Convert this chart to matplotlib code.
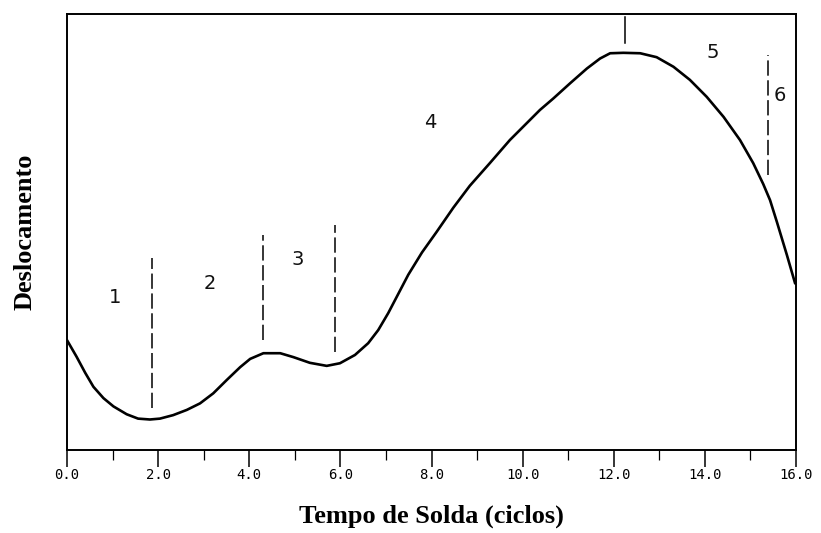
import matplotlib.pyplot as plt
import numpy as np

# curve (time in cycles, displacement in arbitrary units)
tempo = [0.00, 0.21, 0.40, 0.58, 0.80, 1.02, 1.31, 1.56, 1.82, 2.04, 2.33, 2.63,
         2.92, 3.21, 3.51, 3.80, 4.02, 4.31, 4.68, 4.97, 5.33, 5.70, 5.99, 6.32,
         6.61, 6.83, 7.05, 7.27, 7.49, 7.79, 8.11, 8.48, 8.84, 9.28, 9.72, 10.38,
         10.67, 11.04, 11.41, 11.70, 11.92, 12.21, 12.58, 12.94, 13.31, 13.67,
         14.04, 14.41, 14.77, 15.06, 15.28, 15.43, 15.58, 15.80, 15.98]
deslocamento = [25.2, 21.4, 17.7, 14.5, 11.9, 10.0, 8.2, 7.2, 7.0, 7.2, 8.0, 9.2,
                10.7, 13.0, 16.1, 19.0, 20.9, 22.2, 22.2, 21.3, 20.0, 19.3, 19.9, 21.8,
                24.5, 27.5, 31.4, 35.8, 40.2, 45.3, 50.0, 55.6, 60.6, 65.8, 71.1, 78.0,
                80.6, 84.1, 87.5, 89.8, 91.0, 91.1, 91.0, 90.1, 87.9, 84.9,
                81.0, 76.4, 71.1, 65.8, 61.0, 57.3, 52.3, 44.7, 38.2]

# stage boundaries
limites_x = [1.87, 4.30, 5.88, 12.25, 15.39]
limites_y0 = [9.6, 25.2, 22.5, 93.3, 63.1]
limites_y1 = [44.0, 49.3, 51.6, 99.3, 90.6]
limites_estilo = ["dashed", "dashed", "dashed", "solid", "dashed"]

# stage numbers
fases = ["1", "2", "3", "4", "5", "6"]
fases_x = [1.05, 3.14, 5.07, 7.97, 14.18, 15.65]
fases_y = [34.9, 38.3, 43.6, 75.2, 91.1, 81.4]

ticks_maior = [0, 2, 4, 6, 8, 10, 12, 14, 16]
ticks_menor = [1, 3, 5, 7, 9, 11, 13, 15]
ticks_rotulos = ["0.0", "2.0", "4.0", "6.0", "8.0", "10.0", "12.0", "14.0", "16.0"]


def main():
    fig = plt.figure(figsize=(8.21, 5.33), dpi=100)
    ax = fig.add_axes([0.0816, 0.1557, 0.888, 0.818])

    ax.plot(tempo, deslocamento, color="black", lw=1.9,
            solid_capstyle="round", solid_joinstyle="round")

    for x, y0, y1, st in zip(limites_x, limites_y0, limites_y1, limites_estilo):
        if st == "dashed":
            ax.plot([x, x], [y0, y1], color="black", lw=1.1, linestyle=(0, (10, 3)))
        else:
            ax.plot([x, x], [y0, y1], color="black", lw=1.1)

    for txt, x, y in zip(fases, fases_x, fases_y):
        ax.text(x, y, txt, ha="center", va="center", fontsize=14,
                family="DejaVu Sans", color="#111111")

    ax.set_xlim(0, 16)
    ax.set_ylim(0, 100)

    ax.set_xticks(ticks_maior)
    ax.set_xticklabels(ticks_rotulos, family="DejaVu Sans Mono", fontsize=10)
    ax.set_xticks(ticks_menor, minor=True)
    ax.tick_params(axis="x", which="major", direction="out", length=12, width=1.1, pad=1)
    ax.tick_params(axis="x", which="minor", direction="out", length=7, width=0.9)
    ax.set_yticks([])

    for s in ax.spines.values():
        s.set_linewidth(1.4)

    ax.set_xlabel("Tempo de Solda (ciclos)", family="Liberation Serif",
                  fontweight="bold", fontsize=19, labelpad=16)
    ax.set_ylabel("Deslocamento", family="Liberation Serif",
                  fontweight="bold", fontsize=19, labelpad=22)

    fig.savefig("out.png", dpi=100)


if __name__ == "__main__":
    main()
